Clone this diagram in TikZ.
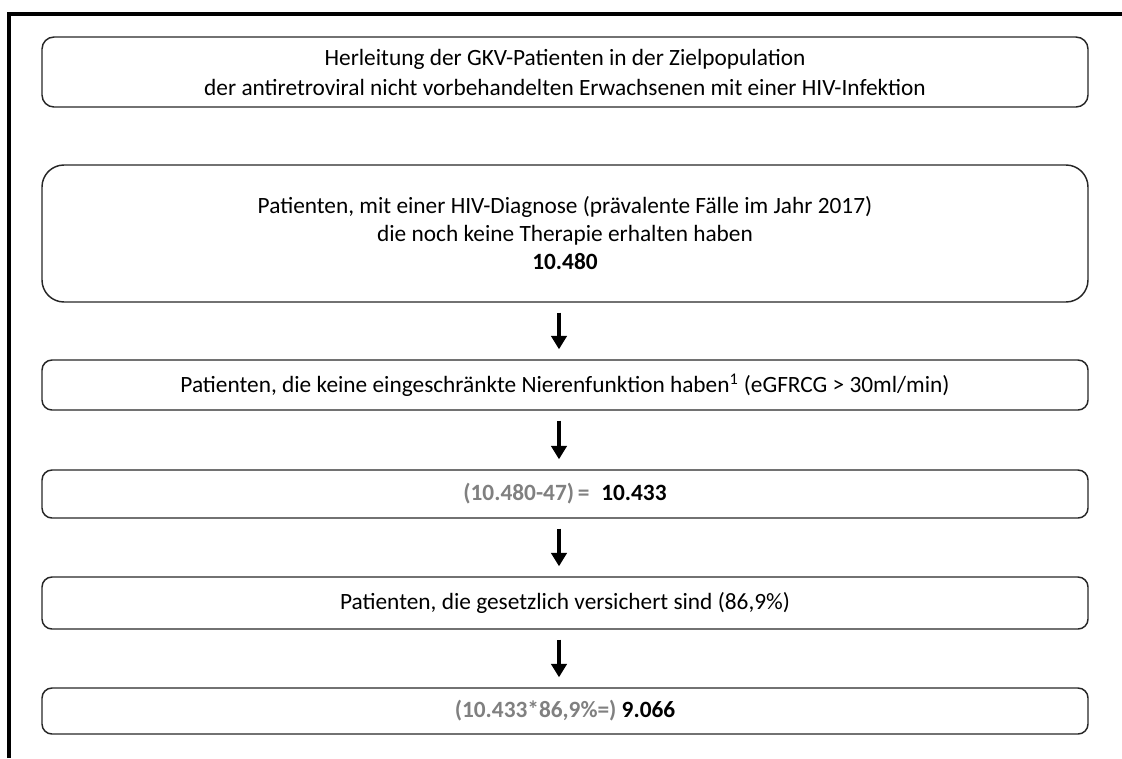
\documentclass[tikz,border=0pt]{standalone}
\usepackage{fontspec}
\setmainfont{Carlito}
\usetikzlibrary{arrows.meta}
\definecolor{numgrey}{RGB}{128,128,128}
\begin{document}
\begin{tikzpicture}[x=0.75pt,y=-0.75pt,
  box/.style={draw=black!85, line width=1.1pt, minimum width=784.5pt, align=center, inner sep=0pt, font=\fontsize{17.5}{21}\selectfont},
  flow/.style={line width=2.3pt, -{Triangle[width=11.5pt,length=10pt]}, shorten <=7.5pt, shorten >=7.5pt},
  frame/.style={line width=3pt}]
\useasboundingbox (0,0) rectangle (1122,758);
\draw[frame] (9.3,758) -- (9.3,14.3) -- (1122,14.3);
\node[box, rounded corners=9pt, minimum height=52.5pt, font=\fontsize{17.5}{22.5}\selectfont] (b1) at (565,72)
  {Herleitung der GKV-Patienten in der Zielpopulation\\der antiretroviral nicht vorbehandelten Erwachsenen mit einer HIV-Infektion};
\node[box, rounded corners=16.5pt, minimum height=102.75pt] (b2) at (565,233.5)
  {Patienten, mit einer HIV-Diagnose (prävalente Fälle im Jahr 2017)\\die noch keine Therapie erhalten haben\\\textbf{10.480}};
\node[box, rounded corners=7.5pt, minimum height=37.5pt] (b3) at (565,385)
  {Patienten, die keine eingeschränkte Nierenfunktion haben\textsuperscript{1} (eGFRCG > 30ml/min)};
\node[box, rounded corners=7.5pt, minimum height=36pt] (b4) at (565,494)
  {\textbf{\textcolor{numgrey}{(10.480-47)\,=}\enspace 10.433}};
\node[box, rounded corners=7.5pt, minimum height=39pt] (b5) at (565,603)
  {Patienten, die gesetzlich versichert sind (86,9\%)};
\node[box, rounded corners=7.5pt, minimum height=34.5pt] (b6) at (565,711)
  {\textbf{\textcolor{numgrey}{(10.433*86,9\%=)} 9.066}};
\foreach \a/\b in {b2/b3,b3/b4,b4/b5,b5/b6}
  \draw[flow] ([xshift=-4.5pt]\a.south) -- ([xshift=-4.5pt]\b.north);
\end{tikzpicture}
\end{document}
